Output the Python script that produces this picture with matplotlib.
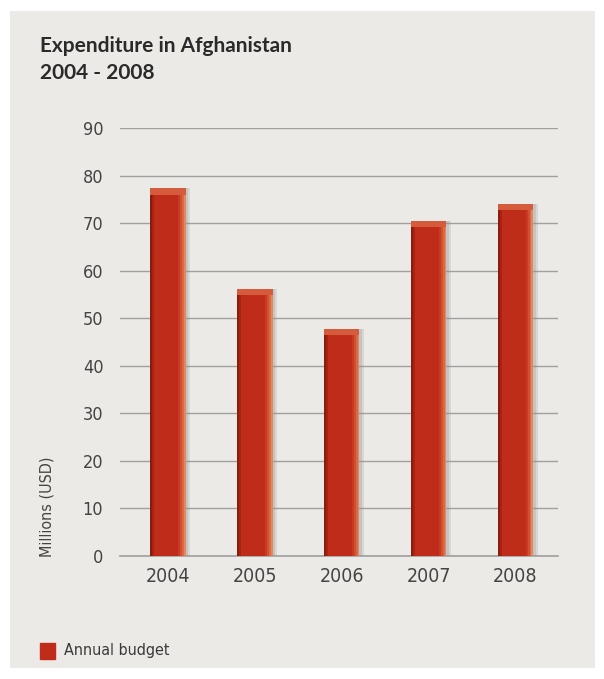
import matplotlib.pyplot as plt

years = ['2004', '2005', '2006', '2007', '2008']
budget = [77.3, 56.1, 47.8, 70.5, 74.0]
yticks = [0, 10, 20, 30, 40, 50, 60, 70, 80, 90]

plt.rcParams['font.family'] = ['DejaVu Sans']
plt.rcParams['font.stretch'] = 'condensed'

fig = plt.figure(figsize=(6.04, 6.79), dpi=100, facecolor='white')
# paper panel
bg = fig.add_axes([10 / 604, 11 / 679, 585 / 604, 657 / 679])
bg.set_facecolor('#ebeae6')
bg.set_xticks([])
bg.set_yticks([])
for s in bg.spines.values():
    s.set_visible(False)
bg.set_zorder(0)

ax = fig.add_axes([120 / 604, 1 - 556 / 679, 438 / 604, 428 / 679])
ax.set_facecolor('none')
ax.set_zorder(2)

x = list(range(len(years)))
w = 0.41
left = [i - w / 2 for i in x]

# soft shadow
ax.bar([l + 0.05 for l in left], budget, width=w, align='edge', color='#8f8f8f',
       alpha=0.2, zorder=2)
ax.bar([l + 0.03 for l in left], budget, width=w, align='edge', color='#8f8f8f',
       alpha=0.25, zorder=2)
# main bar body
ax.bar(left, budget, width=w, align='edge', color='#c02c1a', zorder=3)
# dark left edge
ax.bar(left, budget, width=w * 0.06, align='edge', color='#8a1b0f', zorder=4)
ax.bar([l + w * 0.06 for l in left], budget, width=w * 0.06, align='edge',
       color='#a8240f', zorder=4)
# lighter right edge, in steps
shades = ['#c83a22', '#d0502f', '#da6a47', '#e3875f']
for k, c in enumerate(shades):
    ax.bar([l + w * (0.80 + 0.05 * k) for l in left], budget, width=w * 0.05,
           align='edge', color=c, zorder=4)
# top cap
ax.bar(left, [1.3] * len(x), bottom=[b - 1.3 for b in budget], width=w, align='edge',
       color='#d65a3c', zorder=5)

ax.set_xlim(-0.55, 4.49)
ax.set_ylim(0, 90)
ax.set_yticks(yticks)
ax.set_xticks(x)
ax.set_xticklabels(years)
ax.grid(axis='y', color='#a0a0a0', linewidth=1.0, zorder=1)
ax.axhline(0, color='#a0a0a0', linewidth=1.2, zorder=1, clip_on=False)
ax.set_axisbelow(True)
for s in ax.spines.values():
    s.set_visible(False)
ax.tick_params(axis='both', length=0, colors='#444444', labelsize=13)
ax.tick_params(axis='y', pad=12)
ax.tick_params(axis='x', pad=8)
for t in ax.get_xticklabels():
    t.set_fontsize(14)

ax.set_ylabel('Millions (USD)', fontsize=11.5, color='#444444')
ax.yaxis.set_label_coords(-0.15, 0.114)

fig.text(40 / 604, 1 - 36 / 679, 'Expenditure in Afghanistan\n2004 - 2008',
         fontsize=15, fontweight='bold', color='#2a2a2a', va='top', ha='left',
         family=['Lato', 'DejaVu Sans'], stretch='normal', linespacing=1.45)

# legend
fig.patches.append(plt.Rectangle((40 / 604, 1 - 659 / 679), 15 / 604, 16 / 679,
                                 transform=fig.transFigure, color='#c02c1a', zorder=3))
fig.text(64 / 604, 1 - 650 / 679, 'Annual budget', fontsize=11.5, color='#3a3a3a',
         va='center', ha='left')

fig.savefig('out.png', dpi=100, facecolor='white')
